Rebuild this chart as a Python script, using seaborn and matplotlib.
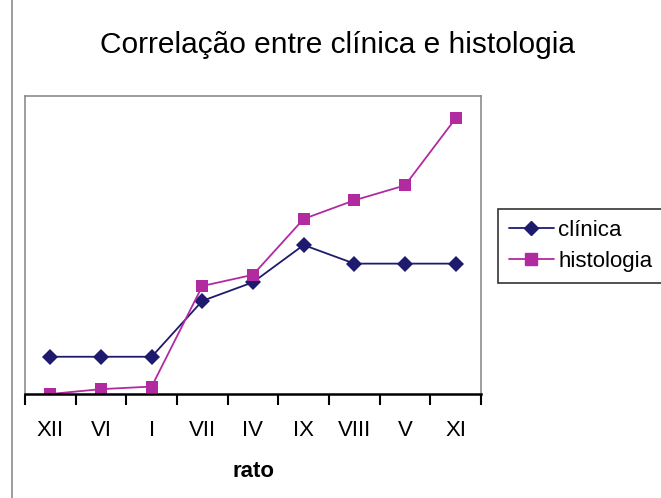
import matplotlib
matplotlib.use("Agg")
import matplotlib.pyplot as plt
from matplotlib.lines import Line2D
import numpy as np
import pandas as pd
import seaborn as sns

sns.set_theme(style="white")
plt.rcParams["font.family"] = ["Liberation Sans", "DejaVu Sans"]
plt.rcParams["text.color"] = "black"
plt.rcParams["xtick.color"] = "black"
plt.rcParams["axes.labelcolor"] = "black"

# data
ratos = ["XII", "VI", "I", "VII", "IV", "IX", "VIII", "V", "XI"]
clinica = [1, 1, 1, 2.5, 3, 4, 3.5, 3.5, 3.5]
histologia = [0, 0.13, 0.2, 2.9, 3.2, 4.7, 5.2, 5.6, 7.4]

pos = np.arange(len(ratos))
df = pd.DataFrame({
    "pos": np.concatenate([pos, pos]),
    "valor": clinica + histologia,
    "serie": ["clínica"] * len(ratos) + ["histologia"] * len(ratos),
})

W, H = 661, 498
fig = plt.figure(figsize=(W / 100, H / 100), dpi=100)
ax = fig.add_axes([25 / W, 1 - 394 / H, (481 - 25) / W, (394 - 96) / H])

palette = {"clínica": "#1E1A6E", "histologia": "#B22AA0"}
sns.lineplot(
    data=df, x="pos", y="valor", hue="serie", style="serie",
    markers={"clínica": "D", "histologia": "s"}, dashes=False,
    palette=palette, linewidth=1.3, markersize=8, markeredgewidth=0,
    ax=ax, legend=False
)

ax.set_xlim(-0.5, len(ratos) - 0.5)
ax.set_ylim(0, 8)
ax.set_yticks([])
ax.set_xticks(pos)
ax.set_xticklabels(ratos, fontsize=16)
ax.set_xticks(np.arange(len(ratos) + 1) - 0.5, minor=True)
ax.tick_params(axis="x", which="major", length=0, pad=19)
ax.tick_params(axis="x", which="minor", length=8, width=1.5, color="black", direction="out")
ax.xaxis.set_ticks_position("bottom")

for side in ["left", "top", "right"]:
    ax.spines[side].set_color("#8C8C8C")
    ax.spines[side].set_linewidth(1.2)
ax.spines["bottom"].set_color("black")
ax.spines["bottom"].set_linewidth(1.8)

ax.set_xlabel("rato", fontsize=16, fontweight="bold", labelpad=14)
ax.set_ylabel("")

fig.text(338 / W, 1 - 45 / H, "Correlação entre clínica e histologia",
         ha="center", va="center", fontsize=21.5)

# outer chart border on the left
fig.add_artist(Line2D([12 / W, 12 / W], [0, 1], color="#8C8C8C", linewidth=1.2,
                      transform=fig.transFigure))

handles = [
    Line2D([0], [0], color=palette["clínica"], marker="D", markersize=7, linewidth=1.3),
    Line2D([0], [0], color=palette["histologia"], marker="s", markersize=8, linewidth=1.3),
]
leg = fig.legend(handles, ["clínica", "histologia"], loc="upper left",
                 bbox_to_anchor=(498 / W, 1 - 209 / H), fontsize=16,
                 frameon=True, fancybox=False, edgecolor="black",
                 handlelength=2.0, handletextpad=0.2, borderpad=0.5,
                 labelspacing=0.45, borderaxespad=0)
leg.get_frame().set_linewidth(1.2)

fig.savefig("out.png", dpi=100)
